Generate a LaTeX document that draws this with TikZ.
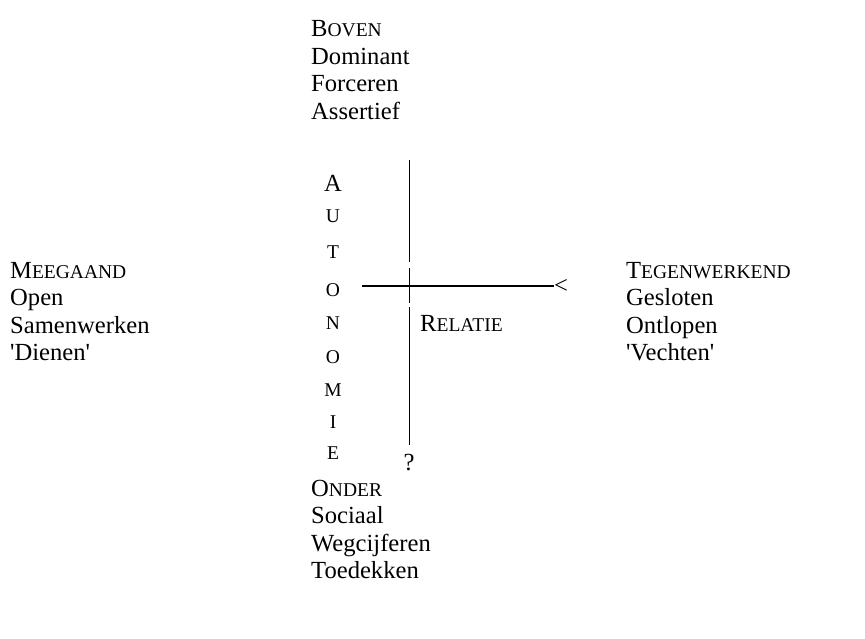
\documentclass[tikz,border=0pt]{standalone}
\usepackage{fontspec}
\setmainfont{Liberation Serif}
\newcommand{\fsc}[2]{#1{\fontsize{19.5}{20}\selectfont #2}}
\begin{document}
\begin{tikzpicture}[x=1pt,y=-1pt,
  txt/.style={anchor=base west,inner sep=0pt,font=\fontsize{24.6}{27}\selectfont},
  ltr/.style={anchor=center,inner sep=0pt,font=\fontsize{19.5}{20}\selectfont},
  axis/.style={line width=1.8pt,black}]
\useasboundingbox (0,0) rectangle (865,639);
% top
\node[txt] (boven) at (311,37) {\fsc{B}{OVEN}};
\node[txt] (dom) at (311,64.5) {Dominant};
\node[txt] (forc) at (311,92) {Forceren};
\node[txt] (ass) at (311,119.5) {Assertief};
% left
\node[txt] (mee) at (10,278) {\fsc{M}{EEGAAND}};
\node[txt] (open) at (10,305.5) {Open};
\node[txt] (samen) at (10,333) {Samenwerken};
\node[txt] (dienen) at (10,360.5) {\textquotesingle Dienen\textquotesingle};
% right
\node[txt] (tegen) at (626,278) {\fsc{T}{EGENWERKEND}};
\node[txt] (gesl) at (626,305.5) {Gesloten};
\node[txt] (ontl) at (626,333) {Ontlopen};
\node[txt] (vecht) at (626,360.5) {\textquotesingle Vechten\textquotesingle};
% bottom
\node[txt] (onder) at (311,496) {\fsc{O}{NDER}};
\node[txt] (soc) at (311,523.5) {Sociaal};
\node[txt] (weg) at (311,551) {Wegcijferen};
\node[txt] (toe) at (311,578.5) {Toedekken};
% AUTONOMIE
\node[ltr,font=\fontsize{24.6}{27}\selectfont] (la) at (333,183) {A};
\node[ltr] (lu) at (333,216) {U};
\node[ltr] (lt) at (333,252) {T};
\node[ltr] (lo1) at (333,290) {O};
\node[ltr] (ln) at (333,323) {N};
\node[ltr] (lo2) at (333,357) {O};
\node[ltr] (lm) at (333,390) {M};
\node[ltr] (li) at (333,422) {I};
\node[ltr] (le) at (333,453) {E};
% labels
\node[txt,anchor=west] (rel) at (420,323) {\fsc{R}{ELATIE}};
\node[txt,anchor=center] (q) at (409,463) {?};
\node[txt,anchor=west] (lt2) at (554,286) {<};
% axes
\coordinate (hstart) at (362,286);
\coordinate (v1) at (409.5,160);
\coordinate (v2) at (409.5,262);
\coordinate (v3) at (409.5,268);
\coordinate (v4) at (409.5,303);
\coordinate (v5) at (409.5,307);
\coordinate (v6) at (409.5,445);
\draw[axis] (hstart) -- (lt2.west);
\draw[axis] (v1) -- (v2);
\draw[axis] (v3) -- (v4);
\draw[axis] (v5) -- (v6);
\end{tikzpicture}
\end{document}
